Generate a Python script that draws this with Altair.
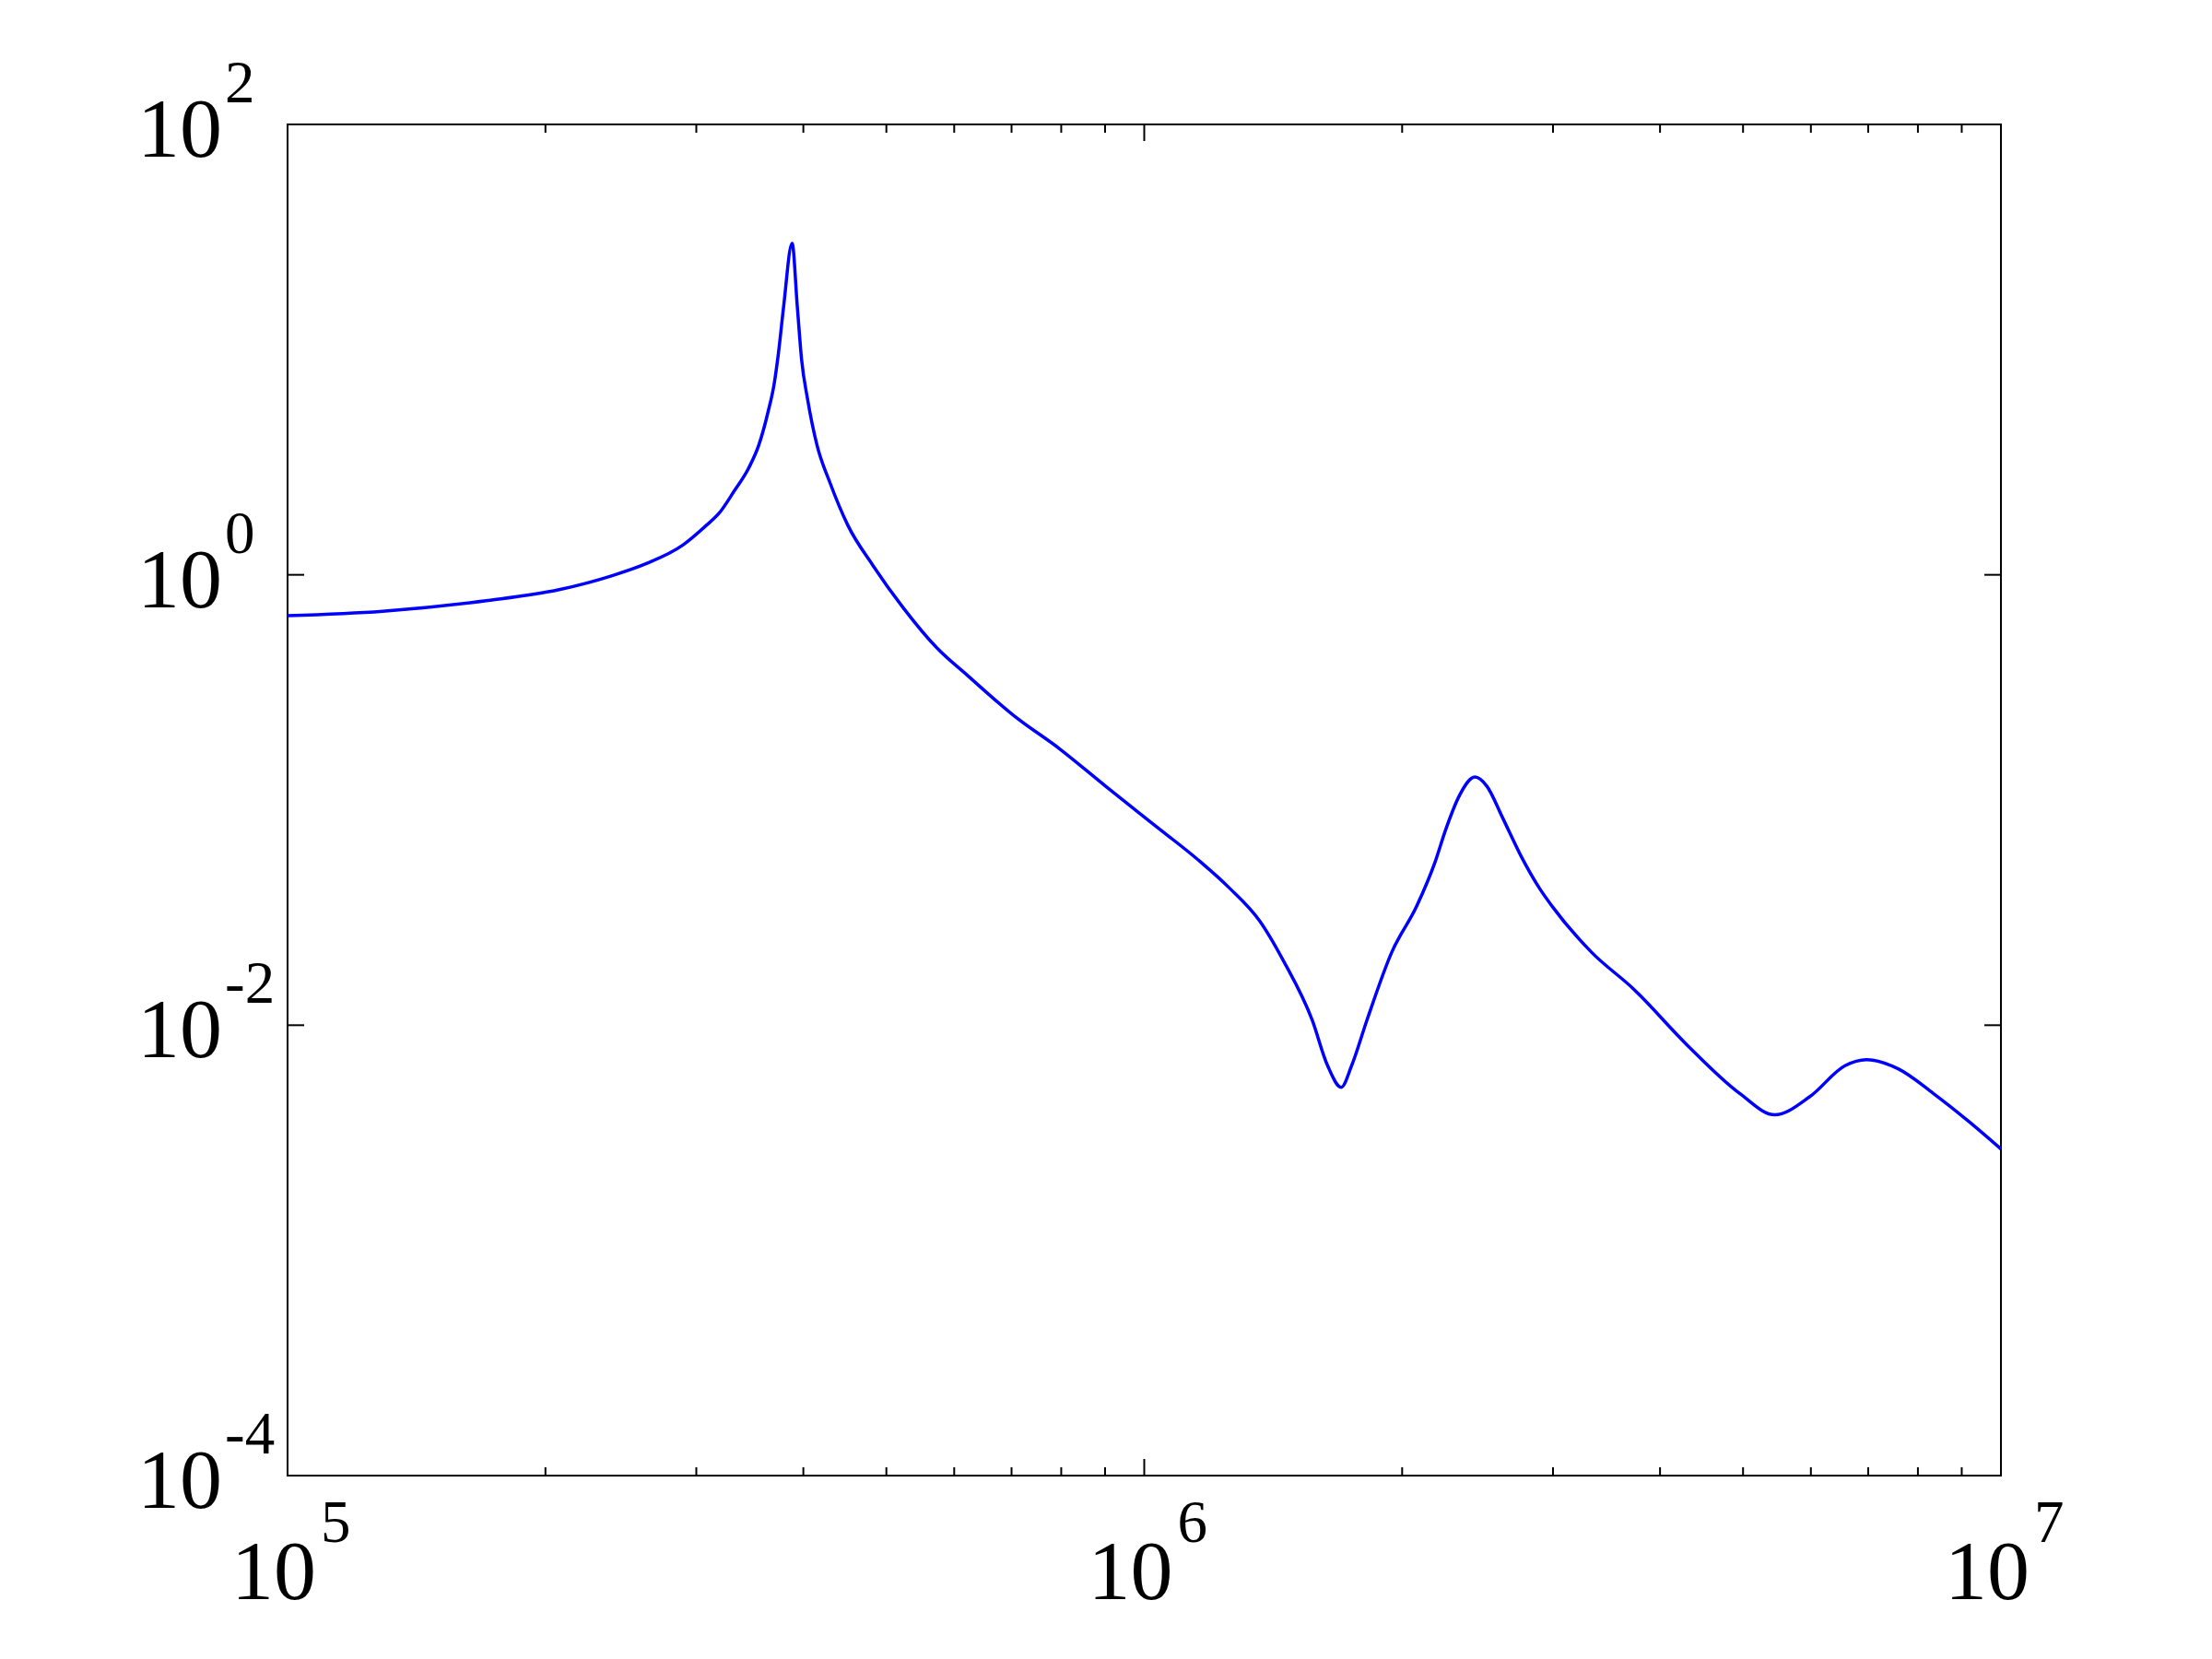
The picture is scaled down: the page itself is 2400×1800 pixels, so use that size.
import altair as alt
import pandas as pd

# Frequency (Hz) and magnitude
freq_hz = [
    100000, 129100, 171400, 207500, 238800, 262400, 289100, 308300, 319200,
    331900, 345900, 354800, 363900, 369800, 374100, 379300, 388100, 393600,
    398100, 404600, 415000, 429500, 450800, 482000, 523600, 572800, 622300,
    704700, 798000, 901600, 1021000, 1156000, 1256000, 1365000, 1455000,
    1570000, 1637000, 1698000, 1746000, 1820000, 1945000, 2080000, 2183000,
    2249000, 2333000, 2432000, 2512000, 2618000, 2754000, 2891000, 2992000,
    3327000, 3724000, 4295000, 4955000, 5445000, 5984000, 6577000, 6966000,
    7586000, 8337000, 9162000, 10000000,
]
magnitude = [
    0.658, 0.689, 0.769, 0.859, 0.989, 1.122, 1.352, 1.660, 1.884,
    2.344, 3.013, 3.758, 5.309, 7.031, 9.638, 15.45, 29.65, 15.45,
    9.057, 6.012, 3.758, 2.576, 1.660, 1.104, 0.711, 0.4732, 0.3565,
    0.2366, 0.1679, 0.1151, 0.0789, 0.0542, 0.0408, 0.0289, 0.0192,
    0.01057, 0.00661, 0.00530, 0.00661, 0.01057, 0.0211, 0.0338, 0.0525,
    0.0741, 0.1047, 0.1265, 0.1151, 0.0839, 0.0562, 0.0407, 0.0338,
    0.0211, 0.0145, 0.00822, 0.00498, 0.00400, 0.00482, 0.00661, 0.00703,
    0.00640, 0.00498, 0.00375, 0.00282,
]

x_major = [1e5, 1e6, 1e7]
x_major_exp = ["5", "6", "7"]
x_minor = [2e5, 3e5, 4e5, 5e5, 6e5, 7e5, 8e5, 9e5,
           2e6, 3e6, 4e6, 5e6, 6e6, 7e6, 8e6, 9e6]
y_major = [1e-4, 1e-2, 1e0, 1e2]
y_major_exp = ["-4", "-2", "0", "2"]

W, H = 1859, 1466
MAJ, MIN = 18, 9
FONT = "Liberation Serif"

xs = alt.Scale(type="log", domain=[1e5, 1e7], nice=False)
ys = alt.Scale(type="log", domain=[1e-4, 1e2], nice=False)

curve_df = pd.DataFrame({"f": freq_hz, "m": magnitude})
xmaj_df = pd.DataFrame({"v": x_major, "base": ["10"] * 3, "exp": x_major_exp})
xmin_df = pd.DataFrame({"v": x_minor})
ymaj_df = pd.DataFrame({"v": y_major, "base": ["10"] * 4, "exp": y_major_exp})

curve = alt.Chart(curve_df).mark_line(
    color="#0000ff", strokeWidth=3.5, clip=True, interpolate="monotone"
).encode(
    x=alt.X("f:Q", scale=xs, axis=None),
    y=alt.Y("m:Q", scale=ys, axis=None),
)

def xticks(df, length):
    base = alt.Chart(df)
    bottom = base.mark_rule(color="black", strokeWidth=2).encode(
        x=alt.X("v:Q", scale=xs, axis=None), y=alt.value(H), y2=alt.value(H - length))
    top = base.mark_rule(color="black", strokeWidth=2).encode(
        x=alt.X("v:Q", scale=xs, axis=None), y=alt.value(0), y2=alt.value(length))
    return bottom + top

yt = alt.Chart(ymaj_df)
yticks = yt.mark_rule(color="black", strokeWidth=2).encode(
    y=alt.Y("v:Q", scale=ys, axis=None), x=alt.value(0), x2=alt.value(MAJ)
) + yt.mark_rule(color="black", strokeWidth=2).encode(
    y=alt.Y("v:Q", scale=ys, axis=None), x=alt.value(W), x2=alt.value(W - MAJ)
)

xl = alt.Chart(xmaj_df)
xlabels = xl.mark_text(font=FONT, fontSize=92, align="right", baseline="alphabetic",
                       dx=31, color="black").encode(
    x=alt.X("v:Q", scale=xs, axis=None), y=alt.value(H + 134), text="base:N"
) + xl.mark_text(font=FONT, fontSize=65, align="left", baseline="alphabetic",
                 dx=36, color="black").encode(
    x=alt.X("v:Q", scale=xs, axis=None), y=alt.value(H + 72), text="exp:N"
)

ylabels = yt.mark_text(font=FONT, fontSize=92, align="right", baseline="alphabetic",
                       dy=35, color="black").encode(
    y=alt.Y("v:Q", scale=ys, axis=None), x=alt.value(-71), text="base:N"
) + yt.mark_text(font=FONT, fontSize=65, align="left", baseline="alphabetic",
                 dy=-24, color="black").encode(
    y=alt.Y("v:Q", scale=ys, axis=None), x=alt.value(-68), text="exp:N"
)

chart = alt.layer(
    curve, xticks(xmaj_df, MAJ), xticks(xmin_df, MIN), yticks, xlabels, ylabels
).properties(
    width=W, height=H,
    autosize=alt.AutoSizeParams(type="none"),
    padding={"left": 304, "top": 127, "right": 221, "bottom": 191},
    background="white",
).configure_view(stroke="black", strokeWidth=2)

chart.save("out.html", embed_options={"renderer": "svg", "actions": False})
